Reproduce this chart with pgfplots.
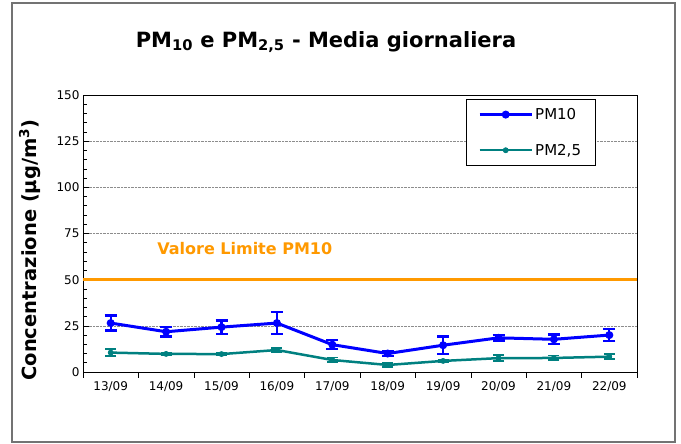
\documentclass[border=0pt]{standalone}
\usepackage{pgfplots}
\pgfplotsset{compat=1.18}
\usepackage{fontspec}
\setmainfont{DejaVu Sans}
\definecolor{pmblue}{RGB}{0,0,255}
\definecolor{pmteal}{RGB}{0,128,128}
\definecolor{limorange}{RGB}{255,153,0}
\begin{document}
\begin{tikzpicture}[x=1pt,y=1pt]
\useasboundingbox (0,0) rectangle (681,444);
\draw[black!55, line width=1.5pt] (12,2) rectangle (675,441);
\node[font=\bfseries\fontsize{21}{25}\selectfont] at (326,402) {PM\textsubscript{10} e PM\textsubscript{2,5} - Media giornaliera};
\node[rotate=90, font=\bfseries\fontsize{19.5}{22}\selectfont] at (30,194) {Concentrazione (µg/m\textsuperscript{3})};
\begin{axis}[
  at={(83pt,72pt)}, anchor=south west,
  scale only axis, width=554pt, height=277pt,
  xmin=-0.5, xmax=9.5, ymin=0, ymax=150,
  ytick={0,25,...,150}, minor ytick={5,10,...,145},
  xtick={-0.5,0.5,...,9.5},
  xticklabels={13/09,14/09,15/09,16/09,17/09,18/09,19/09,20/09,21/09,22/09,{}},
  xticklabel style={xshift=27.7pt},
  xtick align=outside, ytick align=inside,
  major tick length=6pt, minor tick length=4pt,
  xtick pos=bottom, ytick pos=left,
  ymajorgrids, grid style={densely dotted, black!45, line width=0.6pt},
  axis line style={line width=0.8pt},
  tick style={black, line width=0.6pt},
  tick label style={font=\fontsize{12}{14}\selectfont},
  /pgf/number format/assume math mode=true,
  legend style={at={(0.691,0.986)}, anchor=north west, draw=black, line width=0.8pt,
    font=\fontsize{15}{18}\selectfont, inner xsep=12pt, inner ysep=7pt, row sep=19pt},
  legend cell align=left,
  legend image code/.code={\draw[mark repeat=2,mark phase=2,#1] plot coordinates {(0pt,0pt) (26pt,0pt) (52pt,0pt)};},
]
\addplot[limorange, line width=3pt, forget plot] coordinates {(-0.5,50) (9.5,50)};
\node[font=\bfseries\fontsize{16}{19}\selectfont, text=limorange] at (axis cs:2.42,67) {Valore Limite PM10};

\addplot[pmblue, line width=3pt, mark=*, mark size=3.5pt, mark options={solid, line width=1pt},
  error bars/.cd, y dir=both, y explicit,
  error bar style={line width=2.2pt},
  error mark options={rotate=90, mark size=6pt, line width=2.4pt}]
  coordinates {
  (0,26.5) +- (0,4.0)
  (1,21.8) +- (0,2.5)
  (2,24.3) +- (0,3.6)
  (3,26.5) +- (0,6.0)
  (4,14.8) +- (0,2.5)
  (5,10.0) +- (0,1.3)
  (6,14.5) +- (0,4.7)
  (7,18.5) +- (0,1.5)
  (8,17.7) +- (0,2.7)
  (9,20.0) +- (0,3.2)
  };
\addlegendentry{PM10}

\addplot[pmteal, line width=2.5pt, mark=*, mark size=2.5pt, mark options={solid, line width=0.8pt},
  error bars/.cd, y dir=both, y explicit,
  error bar style={line width=1.6pt},
  error mark options={rotate=90, mark size=5.5pt, line width=1.8pt}]
  coordinates {
  (0,10.5) +- (0,2.0)
  (1,9.8) +- (0,0.6)
  (2,9.7) +- (0,0.8)
  (3,11.9) +- (0,1.0)
  (4,6.5) +- (0,1.3)
  (5,3.8) +- (0,1.0)
  (6,6.0) +- (0,0.5)
  (7,7.5) +- (0,1.5)
  (8,7.6) +- (0,1.3)
  (9,8.3) +- (0,1.3)
  };
\addlegendentry{PM2,5}
\end{axis}
\end{tikzpicture}
\end{document}
